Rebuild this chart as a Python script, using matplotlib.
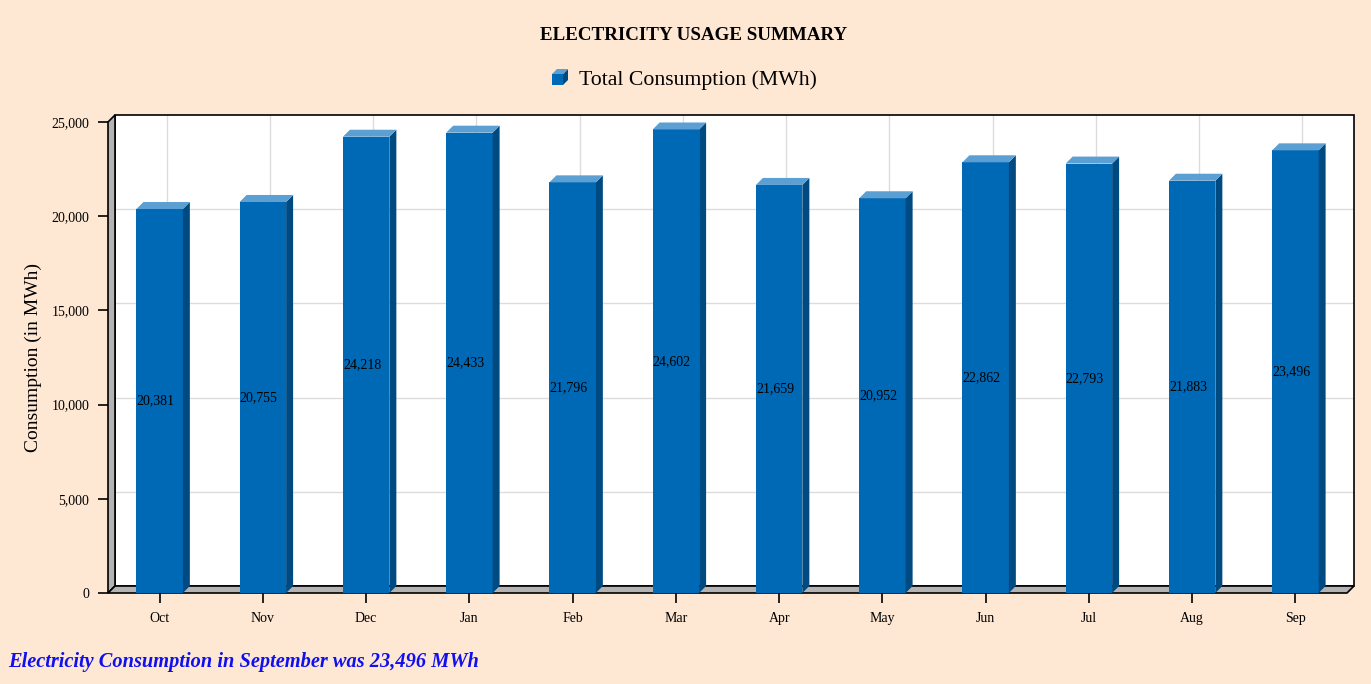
import matplotlib
matplotlib.use("Agg")
import matplotlib.pyplot as plt
from matplotlib.patches import Polygon, Rectangle
from matplotlib.ticker import FuncFormatter

months = ["Oct", "Nov", "Dec", "Jan", "Feb", "Mar", "Apr", "May", "Jun", "Jul", "Aug", "Sep"]
consumption = [20381, 20755, 24218, 24433, 21796, 24602, 21659, 20952, 22862, 22793, 21883, 23496]
y_ticks = [0, 5000, 10000, 15000, 20000, 25000]

BG = "#fee8d4"
FRONT = "#0069b6"
SIDE = "#004a82"
TOP = "#5c9fd3"
WALL = "#b3b3b3"
GRID = "#dcdcdc"
SERIF = "Liberation Serif"

W, H = 1371, 684
fig = plt.figure(figsize=(W / 100, H / 100), dpi=100, facecolor=BG)

# front plane of the plot box in pixels
x0, x1, ytop, ybot = 108, 1347, 122, 593
ax = fig.add_axes([x0 / W, 1 - ybot / H, (x1 - x0) / W, (ybot - ytop) / H])
ax.set_xlim(-0.5, len(months) - 0.5)
ax.set_ylim(0, 25000)
ax.patch.set_visible(False)
for s in ax.spines.values():
    s.set_visible(False)

# depth offset (7 px right, 7 px up) expressed in data units
dx = 7 / ((x1 - x0) / len(months))
dy = 7 / (ybot - ytop) * 25000
xa, xb = -0.5, len(months) - 0.5
ymax = 25000

# back wall
ax.add_patch(Rectangle((xa + dx, dy), xb - xa, ymax, facecolor="white",
                       edgecolor="none", clip_on=False, zorder=0))
for yv in y_ticks[1:-1]:
    ax.plot([xa + dx, xb + dx], [yv + dy, yv + dy], color=GRID, lw=1,
            solid_capstyle="butt", clip_on=False, zorder=1)
for i in range(len(months)):
    ax.plot([i + dx, i + dx], [dy, ymax + dy], color=GRID, lw=1,
            solid_capstyle="butt", clip_on=False, zorder=1)
ax.add_patch(Rectangle((xa + dx, dy), xb - xa, ymax, facecolor="none",
                       edgecolor="black", lw=1.2, clip_on=False, zorder=1.5))

# left wall and floor
ax.add_patch(Polygon([(xa, 0), (xa + dx, dy), (xa + dx, ymax + dy), (xa, ymax)],
                     closed=True, facecolor=WALL, edgecolor="black", lw=1.2,
                     clip_on=False, zorder=2))
ax.add_patch(Polygon([(xa, 0), (xb, 0), (xb + dx, dy), (xa + dx, dy)],
                     closed=True, facecolor=WALL, edgecolor="black", lw=1.2,
                     clip_on=False, zorder=2))

# 3D bars
hw = 0.225
for i, v in enumerate(consumption):
    ax.add_patch(Rectangle((i - hw, 0), 2 * hw, v, facecolor=FRONT, edgecolor="none",
                           clip_on=False, zorder=3))
    ax.add_patch(Polygon([(i + hw, 0), (i + hw + dx, dy), (i + hw + dx, v + dy), (i + hw, v)],
                         closed=True, facecolor=SIDE, edgecolor="none", clip_on=False, zorder=3))
    ax.add_patch(Polygon([(i - hw, v), (i + hw, v), (i + hw + dx, v + dy), (i - hw + dx, v + dy)],
                         closed=True, facecolor=TOP, edgecolor="none", clip_on=False, zorder=3))
    ax.text(i - hw, v / 2, f"{v:,}", ha="left", va="center", fontsize=10,
            family=SERIF, color="black", zorder=4)

ax.set_xticks(range(len(months)))
ax.set_xticklabels(months)
ax.set_yticks(y_ticks)
ax.yaxis.set_major_formatter(FuncFormatter(lambda v, p: f"{int(v):,}"))
ax.tick_params(axis="x", direction="out", length=7.5, width=1.2, pad=6, labelsize=10)
ax.tick_params(axis="y", direction="out", length=7, width=1.2, pad=6.5, labelsize=10)
for lab in ax.get_xticklabels() + ax.get_yticklabels():
    lab.set_family(SERIF)

# overlay in pixel coordinates for titles and legend
ov = fig.add_axes([0, 0, 1, 1], zorder=10)
ov.set_xlim(0, W)
ov.set_ylim(H, 0)
ov.axis("off")
ov.patch.set_visible(False)

ov.text(33, 357, "Consumption (in MWh)", rotation=90, ha="center", va="center",
        family=SERIF, fontsize=14, color="black")

ov.text(694, 35, "ELECTRICITY USAGE SUMMARY", ha="center", va="center",
        family=SERIF, fontsize=13.7, fontweight="bold", color="black")

# legend swatch: small cube
cx, cy, s, d = 552, 85, 11, 5
ov.add_patch(Rectangle((cx, cy - s), s, s, facecolor=FRONT, edgecolor="none"))
ov.add_patch(Polygon([(cx + s, cy), (cx + s + d, cy - d), (cx + s + d, cy - s - d), (cx + s, cy - s)],
                     closed=True, facecolor=SIDE, edgecolor="none"))
ov.add_patch(Polygon([(cx, cy - s), (cx + s, cy - s), (cx + s + d, cy - s - d), (cx + d, cy - s - d)],
                     closed=True, facecolor=TOP, edgecolor="none"))
ov.text(579, 80, "Total Consumption (MWh)", ha="left", va="center",
        family=SERIF, fontsize=15.7, color="black")

ov.text(8, 662, "Electricity Consumption in September was 23,496 MWh", ha="left", va="center",
        family=SERIF, fontsize=14.7, fontweight="bold", fontstyle="italic", color="#1010ee")

fig.savefig("out.png", dpi=100, facecolor=BG)
